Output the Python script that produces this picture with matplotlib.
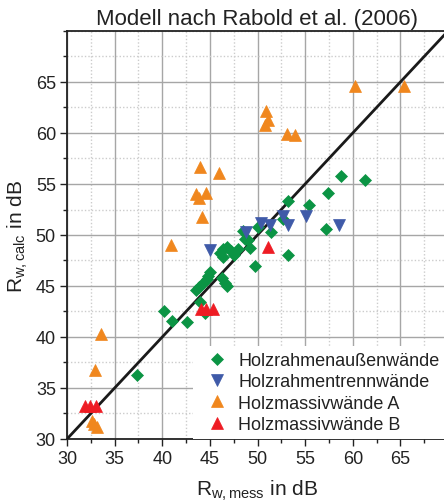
import matplotlib
matplotlib.use("Agg")
import matplotlib.pyplot as plt
from matplotlib.ticker import MultipleLocator

plt.rcParams['font.family'] = ['Liberation Sans', 'DejaVu Sans']
plt.rcParams['mathtext.fontset'] = 'custom'
plt.rcParams['mathtext.rm'] = 'Liberation Sans'
plt.rcParams['mathtext.it'] = 'Liberation Sans:italic'

title = "Modell nach Rabold et al. (2006)"
xlabel = r"R$_{\mathrm{w,mess}}$ in dB"
ylabel = r"R$_{\mathrm{w,calc}}$ in dB"
labels = ["Holzrahmenaußenwände", "Holzrahmentrennwände",
          "Holzmassivwände A", "Holzmassivwände B"]

# Holzrahmenaußenwände (green diamonds)
green_x = [37.4, 40.2, 41.0, 42.6, 43.5, 43.9, 44.0, 44.3, 44.7, 44.8, 45.0, 44.5,
           46.1, 46.4, 46.8, 46.4, 47.5, 48.0, 46.3, 46.6, 46.8, 48.5, 48.7, 49.2,
           49.75, 50.1, 51.4, 52.7, 53.2, 55.45, 57.4, 58.8, 61.3, 57.2, 53.25, 49.0,
           47.2]
green_y = [36.3, 42.5, 41.6, 41.5, 44.6, 44.9, 43.4, 45.3, 45.7, 46.0, 46.4, 42.4,
           48.2, 48.6, 48.8, 47.8, 48.0, 48.6, 45.8, 45.3, 45.0, 50.4, 49.6, 48.7,
           47.0, 50.8, 50.3, 51.6, 53.3, 52.9, 54.15, 55.8, 55.4, 50.6, 48.0, 49.5,
           48.4]

# Holzrahmentrennwände (blue down triangles)
blue_x = [45.0, 48.8, 50.4, 51.3, 52.7, 53.2, 55.1, 58.6]
blue_y = [48.5, 50.3, 51.2, 51.0, 51.9, 51.0, 51.9, 51.0]

# Holzmassivwände A (orange up triangles)
orange_x = [44.0, 46.0, 43.5, 44.6, 43.9, 44.2, 60.2, 65.4, 50.9, 51.1, 50.8,
            53.1, 53.9, 40.9, 33.6, 32.9, 32.6, 32.8, 33.2]
orange_y = [56.7, 56.1, 54.0, 54.1, 53.6, 51.8, 64.6, 64.6, 62.2, 61.3, 60.8,
            59.9, 59.8, 49.0, 40.3, 36.8, 31.8, 31.5, 31.2]

# Holzmassivwände B (red up triangles)
red_x = [31.9, 32.4, 33.0, 44.1, 44.6, 45.3, 51.1]
red_y = [33.2, 33.2, 33.2, 42.7, 42.7, 42.7, 48.8]

xlim = (30, 70)
ylim = (30, 70)
ticks = [30, 35, 40, 45, 50, 55, 60, 65]

fig = plt.figure(figsize=(4.44, 5.02), dpi=100)
ax = fig.add_axes([67/444, 62/502, 381/444, 408/502])

ax.plot(xlim, ylim, color='#1a1a1a', lw=2.0, zorder=3)

ax.plot(green_x, green_y, ls='none', marker='D', ms=6.0, color='#0b9444',
        mec='#0b9444', mew=0.5, label=labels[0], zorder=4)
ax.plot(blue_x, blue_y, ls='none', marker='v', ms=8, color='#3f5aa8',
        mec='#3f5aa8', mew=0.5, label=labels[1], zorder=4)
ax.plot(orange_x, orange_y, ls='none', marker='^', ms=8, color='#f0871e',
        mec='#f0871e', mew=0.5, label=labels[2], zorder=4)
ax.plot(red_x, red_y, ls='none', marker='^', ms=8, color='#ee1c24',
        mec='#ee1c24', mew=0.5, label=labels[3], zorder=4)

ax.set_xlim(*xlim)
ax.set_ylim(*ylim)
ax.set_xticks(ticks)
ax.set_yticks(ticks)
ax.xaxis.set_minor_locator(MultipleLocator(2.5))
ax.yaxis.set_minor_locator(MultipleLocator(2.5))
ax.tick_params(which='major', direction='out', length=5, width=1.0,
               labelsize=13, colors='#222222', pad=3)
ax.tick_params(which='minor', direction='out', length=3, width=1.0, colors='#222222')
ax.grid(which='major', color='#a6a6a6', lw=1.0, ls='-', zorder=0)
ax.grid(which='minor', color='#cccccc', lw=1.0, ls=(0, (1, 1.5)), zorder=0)
ax.set_axisbelow(True)
for s in ax.spines.values():
    s.set_color('#222222')
    s.set_linewidth(1.3)

ax.set_title(title, fontsize=16, pad=5, color='#222222')
ax.set_xlabel(xlabel, fontsize=15, labelpad=8, color='#222222')
ax.set_ylabel(ylabel, fontsize=15, labelpad=4, color='#222222')

leg = ax.legend(loc='upper left', bbox_to_anchor=((193-67)/381, (440-347)/408),
                fontsize=13, frameon=True, facecolor='white', edgecolor='none',
                framealpha=1.0, handlelength=2.0, handletextpad=0.17,
                labelspacing=0.24, borderpad=0.33, borderaxespad=0.0, fancybox=False)
leg.set_zorder(5)
for t in leg.get_texts():
    t.set_color('#222222')

fig.savefig("out.png", dpi=100)
